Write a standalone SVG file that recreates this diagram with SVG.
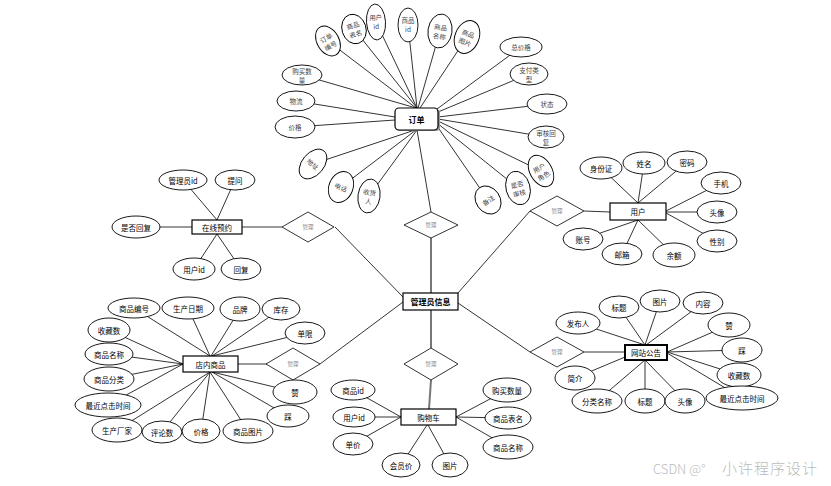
<svg xmlns="http://www.w3.org/2000/svg" width="831" height="486" viewBox="0 0 831 486">
<style>
.e{fill:#fff;stroke:#000;stroke-width:0.9}
.b{fill:#fff;stroke:#000;stroke-width:1.2}
.d{fill:#fff;stroke:#000;stroke-width:0.8}
.t{font-family:"Noto Sans CJK SC","Liberation Sans",sans-serif;font-size:7.5px;text-anchor:middle;dominant-baseline:central;fill:#000}
.o{font-size:6.5px;fill:#444}
.m{font-size:5.5px;fill:#888}
.bt{font-size:8px;font-weight:bold}
.ln{stroke:#000;stroke-width:0.8;fill:none}
.lg{stroke:#777;stroke-width:2;fill:none}
.wm{font-family:"Noto Sans CJK SC","Liberation Sans",sans-serif;font-size:13px;fill:#bbb;font-weight:300}
</style>
<rect width="831" height="486" fill="#fff"/>
<g id="connectors">
<line class="ln" x1="328" y1="41" x2="416" y2="108"/>
<line class="ln" x1="354" y1="29" x2="417" y2="108"/>
<line class="ln" x1="376" y1="22" x2="417" y2="108"/>
<line class="ln" x1="408" y1="25" x2="417" y2="108"/>
<line class="ln" x1="440" y1="31" x2="418" y2="108"/>
<line class="ln" x1="467" y1="37" x2="420" y2="108"/>
<line class="ln" x1="302" y1="75" x2="416" y2="108"/>
<line class="ln" x1="296" y1="101" x2="395" y2="117"/>
<line class="ln" x1="295" y1="127" x2="395" y2="120"/>
<line class="ln" x1="521" y1="47" x2="437" y2="109"/>
<line class="ln" x1="529" y1="74" x2="438" y2="112"/>
<line class="ln" x1="547" y1="104" x2="438" y2="117"/>
<line class="ln" x1="546" y1="137" x2="438" y2="119"/>
<line class="ln" x1="541" y1="171" x2="438" y2="121"/>
<line class="ln" x1="518" y1="188" x2="437" y2="123"/>
<line class="ln" x1="488" y1="200" x2="437" y2="126"/>
<line class="ln" x1="313" y1="164" x2="415" y2="130"/>
<line class="ln" x1="341" y1="187" x2="416" y2="130"/>
<line class="ln" x1="369" y1="196" x2="417" y2="130"/>
<line class="ln" x1="417" y1="130" x2="431" y2="212"/>
<line class="lg" x1="431" y1="238" x2="431" y2="293"/>
<line class="lg" x1="431" y1="310" x2="431" y2="348"/>
<line class="lg" x1="431" y1="380" x2="429" y2="409"/>
<line class="ln" x1="335" y1="227" x2="403" y2="297"/>
<line class="ln" x1="320" y1="364" x2="403" y2="302"/>
<line class="ln" x1="530" y1="211" x2="458" y2="293"/>
<line class="ln" x1="530" y1="352" x2="458" y2="303"/>
<line class="ln" x1="183" y1="180" x2="217" y2="220"/>
<line class="ln" x1="235" y1="180" x2="217" y2="220"/>
<line class="ln" x1="136" y1="227" x2="192" y2="227"/>
<line class="ln" x1="194" y1="269" x2="217" y2="234"/>
<line class="ln" x1="241" y1="269" x2="217" y2="234"/>
<line class="ln" x1="242" y1="227" x2="282" y2="227"/>
<line class="ln" x1="601" y1="168" x2="638" y2="203"/>
<line class="ln" x1="644" y1="163" x2="638" y2="203"/>
<line class="ln" x1="687" y1="162" x2="638" y2="203"/>
<line class="ln" x1="721" y1="183" x2="666" y2="211"/>
<line class="ln" x1="717" y1="212" x2="666" y2="212"/>
<line class="ln" x1="717" y1="241" x2="666" y2="213"/>
<line class="ln" x1="583" y1="239" x2="638" y2="220"/>
<line class="ln" x1="622" y1="254" x2="638" y2="220"/>
<line class="ln" x1="674" y1="255" x2="638" y2="220"/>
<line class="ln" x1="584" y1="211" x2="610" y2="212"/>
<line class="ln" x1="134" y1="308" x2="210" y2="356"/>
<line class="ln" x1="188" y1="308" x2="210" y2="356"/>
<line class="ln" x1="240" y1="309" x2="211" y2="356"/>
<line class="ln" x1="281" y1="309" x2="212" y2="356"/>
<line class="ln" x1="305" y1="333" x2="212" y2="356"/>
<line class="ln" x1="109" y1="330" x2="183" y2="364"/>
<line class="ln" x1="109" y1="354" x2="183" y2="364"/>
<line class="ln" x1="109" y1="379" x2="183" y2="364"/>
<line class="ln" x1="108" y1="405" x2="183" y2="364"/>
<line class="ln" x1="117" y1="430" x2="210" y2="372"/>
<line class="ln" x1="162" y1="432" x2="210" y2="372"/>
<line class="ln" x1="201" y1="431" x2="210" y2="372"/>
<line class="ln" x1="248" y1="431" x2="210" y2="372"/>
<line class="ln" x1="295" y1="392" x2="212" y2="372"/>
<line class="ln" x1="288" y1="416" x2="212" y2="372"/>
<line class="ln" x1="238" y1="364" x2="267" y2="364"/>
<line class="ln" x1="578" y1="323" x2="645" y2="345"/>
<line class="ln" x1="619" y1="307" x2="645" y2="345"/>
<line class="ln" x1="660" y1="301" x2="645" y2="345"/>
<line class="ln" x1="703" y1="303" x2="646" y2="345"/>
<line class="ln" x1="729" y1="325" x2="667" y2="352"/>
<line class="ln" x1="742" y1="350" x2="667" y2="352"/>
<line class="ln" x1="739" y1="375" x2="667" y2="352"/>
<line class="ln" x1="742" y1="398" x2="667" y2="353"/>
<line class="ln" x1="575" y1="378" x2="625" y2="357"/>
<line class="ln" x1="597" y1="401" x2="645" y2="360"/>
<line class="ln" x1="645" y1="401" x2="645" y2="360"/>
<line class="ln" x1="685" y1="401" x2="645" y2="360"/>
<line class="ln" x1="584" y1="352" x2="625" y2="352"/>
<line class="ln" x1="353" y1="390" x2="401" y2="417"/>
<line class="ln" x1="354" y1="417" x2="401" y2="417"/>
<line class="ln" x1="353" y1="444" x2="401" y2="417"/>
<line class="ln" x1="401" y1="465" x2="427" y2="425"/>
<line class="ln" x1="450" y1="465" x2="428" y2="425"/>
<line class="ln" x1="507" y1="390" x2="456" y2="417"/>
<line class="ln" x1="508" y1="418" x2="456" y2="417"/>
<line class="ln" x1="508" y1="447" x2="456" y2="417"/>
</g>

<g id="admin"><rect class="b" x="403" y="293" width="55" height="17"/><text class="t bt" x="430.5" y="301.5">管理员信息</text></g>
<g id="rel-top"><polygon class="d" points="431,212 458,225 431,238 404,225"/><text class="t m" x="431" y="225">管理</text></g>
<g id="rel-left"><polygon class="d" points="308,212 334,227 308,242 282,227"/><text class="t m" x="308" y="227">管理</text></g>
<g id="rel-bottom"><polygon class="d" points="431,348 458,364 431,380 404,364"/><text class="t m" x="431" y="364">管理</text></g>
<g id="rel-goods"><polygon class="d" points="293,348 320,364 293,380 266,364"/><text class="t m" x="293" y="364">管理</text></g>
<g id="rel-user"><polygon class="d" points="557,196 584,211 557,226 530,211"/><text class="t m" x="557" y="211">管理</text></g>
<g id="rel-notice"><polygon class="d" points="557,337 584,352 557,367 530,352"/><text class="t m" x="557" y="352">管理</text></g>

<g id="order"><rect x="396" y="109" width="44" height="22" rx="4" fill="#999"/><rect class="b" x="395" y="108" width="43" height="22" rx="4"/><text class="t bt" x="416.5" y="119">订单</text></g>
<g id="o-ddbh" transform="translate(328,41) rotate(-30)"><ellipse class="e" rx="11" ry="16"/><text class="t o"><tspan x="0" y="-4">订单</tspan><tspan x="0" y="5">编号</tspan></text></g>
<g id="o-spbm" transform="translate(354,29) rotate(-18)"><ellipse class="e" rx="12" ry="15"/><text class="t o"><tspan x="0" y="-4">商品</tspan><tspan x="0" y="5">表名</tspan></text></g>
<g id="o-yhid" transform="translate(376,22) rotate(-4)"><ellipse class="e" rx="9.5" ry="18"/><text class="t o"><tspan x="0" y="-5">用户</tspan><tspan x="0" y="4">id</tspan></text></g>
<g id="o-spid" transform="translate(408,25)"><ellipse class="e" rx="10" ry="17"/><text class="t o"><tspan x="0" y="-5">商品</tspan><tspan x="0" y="4">id</tspan></text></g>
<g id="o-spmc" transform="translate(440,31) rotate(8)"><ellipse class="e" rx="12" ry="17"/><text class="t o"><tspan x="0" y="-4">商品</tspan><tspan x="0" y="5">名称</tspan></text></g>
<g id="o-sptp" transform="translate(467,37) rotate(22)"><ellipse class="e" rx="12" ry="17"/><text class="t o"><tspan x="0" y="-4">商品</tspan><tspan x="0" y="5">图片</tspan></text></g>
<g id="o-gmsl"><ellipse class="e" cx="302" cy="75" rx="20" ry="10"/><text class="t o"><tspan x="302" y="71">购买数</tspan><tspan x="302" y="79.5">量</tspan></text></g>
<g id="o-wl"><ellipse class="e" cx="296" cy="101" rx="19" ry="10"/><text class="t o" x="296" y="101">物流</text></g>
<g id="o-jg"><ellipse class="e" cx="295" cy="127" rx="20" ry="11"/><text class="t o" x="295" y="127">价格</text></g>
<g id="o-zjg"><ellipse class="e" cx="521" cy="47" rx="21" ry="10"/><text class="t o" x="521" y="47">总价格</text></g>
<g id="o-zflx"><ellipse class="e" cx="529" cy="74" rx="19" ry="11"/><text class="t o"><tspan x="529" y="70">支付类</tspan><tspan x="529" y="79">型</tspan></text></g>
<g id="o-zt"><ellipse class="e" cx="547" cy="104" rx="20" ry="10"/><text class="t o" x="547" y="104">状态</text></g>
<g id="o-shhf"><ellipse class="e" cx="546" cy="137" rx="18" ry="11"/><text class="t o"><tspan x="546" y="133">审核回</tspan><tspan x="546" y="142">复</tspan></text></g>
<g id="o-yhjs" transform="translate(541,171) rotate(-30)"><ellipse class="e" rx="11" ry="17"/><text class="t o"><tspan x="0" y="-4">用户</tspan><tspan x="0" y="5">角色</tspan></text></g>
<g id="o-sfsh" transform="translate(518,188) rotate(-15)"><ellipse class="e" rx="12" ry="17"/><text class="t o"><tspan x="0" y="-4">是否</tspan><tspan x="0" y="5">审核</tspan></text></g>
<g id="o-bz" transform="translate(488,200) rotate(-35)"><ellipse class="e" rx="12" ry="15"/><text class="t o" x="0" y="0">备注</text></g>
<g id="o-dz" transform="translate(313,164) rotate(40)"><ellipse class="e" rx="11" ry="17"/><text class="t o" x="0" y="0">地址</text></g>
<g id="o-dh" transform="translate(341,187) rotate(22)"><ellipse class="e" rx="12" ry="16"/><text class="t o" x="0" y="0">电话</text></g>
<g id="o-shr" transform="translate(369,196) rotate(8)"><ellipse class="e" rx="11" ry="17"/><text class="t o"><tspan x="0" y="-4">收货</tspan><tspan x="0" y="5">人</tspan></text></g>

<g id="zaixian"><rect class="b" x="192" y="220" width="50" height="14"/><text class="t" x="217" y="227">在线预约</text></g>
<g id="z-glyid"><ellipse class="e" cx="183" cy="180" rx="24" ry="10"/><text class="t" x="183" y="180">管理员id</text></g>
<g id="z-tw"><ellipse class="e" cx="235" cy="180" rx="20" ry="10"/><text class="t" x="235" y="180">提问</text></g>
<g id="z-sfhf"><ellipse class="e" cx="136" cy="227" rx="24" ry="11"/><text class="t" x="136" y="227">是否回复</text></g>
<g id="z-yhid"><ellipse class="e" cx="194" cy="269" rx="21" ry="11"/><text class="t" x="194" y="269">用户id</text></g>
<g id="z-hf"><ellipse class="e" cx="241" cy="269" rx="20" ry="11"/><text class="t" x="241" y="269">回复</text></g>

<g id="user"><rect class="b" x="610" y="203" width="56" height="17"/><text class="t" x="638" y="211.5">用户</text></g>
<g id="u-sfz"><ellipse class="e" cx="601" cy="168" rx="21" ry="11"/><text class="t" x="601" y="168">身份证</text></g>
<g id="u-xm"><ellipse class="e" cx="644" cy="163" rx="21" ry="11"/><text class="t" x="644" y="163">姓名</text></g>
<g id="u-mm"><ellipse class="e" cx="687" cy="162" rx="20" ry="11"/><text class="t" x="687" y="162">密码</text></g>
<g id="u-sj"><ellipse class="e" cx="721" cy="183" rx="20" ry="11"/><text class="t" x="721" y="183">手机</text></g>
<g id="u-tx"><ellipse class="e" cx="717" cy="212" rx="20" ry="11"/><text class="t" x="717" y="212">头像</text></g>
<g id="u-xb"><ellipse class="e" cx="717" cy="241" rx="20" ry="11"/><text class="t" x="717" y="241">性别</text></g>
<g id="u-zh"><ellipse class="e" cx="583" cy="239" rx="20" ry="11"/><text class="t" x="583" y="239">账号</text></g>
<g id="u-yx"><ellipse class="e" cx="622" cy="254" rx="20" ry="11"/><text class="t" x="622" y="254">邮箱</text></g>
<g id="u-ye"><ellipse class="e" cx="674" cy="255" rx="21" ry="12"/><text class="t" x="674" y="255">余额</text></g>

<g id="goods"><rect class="b" x="183" y="356" width="55" height="16"/><text class="t" x="210.5" y="364">店内商品</text></g>
<g id="g-spbh"><ellipse class="e" cx="134" cy="308" rx="26" ry="10"/><text class="t" x="134" y="308">商品编号</text></g>
<g id="g-scrq"><ellipse class="e" cx="188" cy="308" rx="26" ry="11"/><text class="t" x="188" y="308">生产日期</text></g>
<g id="g-pp"><ellipse class="e" cx="240" cy="309" rx="20" ry="12"/><text class="t" x="240" y="309">品牌</text></g>
<g id="g-kc"><ellipse class="e" cx="281" cy="309" rx="19" ry="11"/><text class="t" x="281" y="309">库存</text></g>
<g id="g-dx"><ellipse class="e" cx="305" cy="333" rx="20" ry="11"/><text class="t" x="305" y="333">单限</text></g>
<g id="g-scs"><ellipse class="e" cx="109" cy="330" rx="21" ry="12"/><text class="t" x="109" y="330">收藏数</text></g>
<g id="g-spmc"><ellipse class="e" cx="109" cy="354" rx="24" ry="11"/><text class="t" x="109" y="354">商品名称</text></g>
<g id="g-spfl"><ellipse class="e" cx="109" cy="379" rx="25" ry="12"/><text class="t" x="109" y="379">商品分类</text></g>
<g id="g-zjdj"><ellipse class="e" cx="108" cy="405" rx="33" ry="12"/><text class="t" x="108" y="405">最近点击时间</text></g>
<g id="g-sccj"><ellipse class="e" cx="117" cy="430" rx="25" ry="12"/><text class="t" x="117" y="430">生产厂家</text></g>
<g id="g-pls"><ellipse class="e" cx="162" cy="432" rx="20" ry="11"/><text class="t" x="162" y="432">评论数</text></g>
<g id="g-jg"><ellipse class="e" cx="201" cy="431" rx="19" ry="12"/><text class="t" x="201" y="431">价格</text></g>
<g id="g-sptp"><ellipse class="e" cx="248" cy="431" rx="25" ry="12"/><text class="t" x="248" y="431">商品图片</text></g>
<g id="g-z"><ellipse class="e" cx="295" cy="392" rx="22" ry="12"/><text class="t" x="295" y="392">赞</text></g>
<g id="g-c"><ellipse class="e" cx="288" cy="416" rx="21" ry="11"/><text class="t" x="288" y="416">踩</text></g>

<g id="notice"><rect class="b" x="625" y="345" width="42" height="15" style="stroke-width:2"/><text class="t" x="646" y="352.5">网站公告</text></g>
<g id="n-fbr"><ellipse class="e" cx="578" cy="323" rx="22" ry="11"/><text class="t" x="578" y="323">发布人</text></g>
<g id="n-bt1"><ellipse class="e" cx="619" cy="307" rx="20" ry="11"/><text class="t" x="619" y="307">标题</text></g>
<g id="n-tp"><ellipse class="e" cx="660" cy="301" rx="20" ry="11"/><text class="t" x="660" y="301">图片</text></g>
<g id="n-nr"><ellipse class="e" cx="703" cy="303" rx="20" ry="11"/><text class="t" x="703" y="303">内容</text></g>
<g id="n-z"><ellipse class="e" cx="729" cy="325" rx="21" ry="12"/><text class="t" x="729" y="325">赞</text></g>
<g id="n-c"><ellipse class="e" cx="742" cy="350" rx="20" ry="12"/><text class="t" x="742" y="350">踩</text></g>
<g id="n-scs"><ellipse class="e" cx="739" cy="375" rx="22" ry="12"/><text class="t" x="739" y="375">收藏数</text></g>
<g id="n-zjdj"><ellipse class="e" cx="742" cy="398" rx="36" ry="12"/><text class="t" x="742" y="398">最近点击时间</text></g>
<g id="n-jj"><ellipse class="e" cx="575" cy="378" rx="20" ry="12"/><text class="t" x="575" y="378">简介</text></g>
<g id="n-flmc"><ellipse class="e" cx="597" cy="401" rx="25" ry="12"/><text class="t" x="597" y="401">分类名称</text></g>
<g id="n-bt2"><ellipse class="e" cx="645" cy="401" rx="20" ry="12"/><text class="t" x="645" y="401">标题</text></g>
<g id="n-tx"><ellipse class="e" cx="685" cy="401" rx="20" ry="12"/><text class="t" x="685" y="401">头像</text></g>

<g id="cart"><rect class="b" x="401" y="409" width="55" height="16"/><text class="t" x="428.5" y="417">购物车</text></g>
<g id="c-spid"><ellipse class="e" cx="353" cy="390" rx="22" ry="10"/><text class="t" x="353" y="390">商品id</text></g>
<g id="c-yhid"><ellipse class="e" cx="354" cy="417" rx="21" ry="10"/><text class="t" x="354" y="417">用户id</text></g>
<g id="c-dj"><ellipse class="e" cx="353" cy="444" rx="20" ry="11"/><text class="t" x="353" y="444">单价</text></g>
<g id="c-hyj"><ellipse class="e" cx="401" cy="465" rx="19" ry="12"/><text class="t" x="401" y="465">会员价</text></g>
<g id="c-tp"><ellipse class="e" cx="450" cy="465" rx="18" ry="12"/><text class="t" x="450" y="465">图片</text></g>
<g id="c-gmsl"><ellipse class="e" cx="507" cy="390" rx="24" ry="12"/><text class="t" x="507" y="390">购买数量</text></g>
<g id="c-spbm"><ellipse class="e" cx="508" cy="418" rx="23" ry="11"/><text class="t" x="508" y="418">商品表名</text></g>
<g id="c-spmc"><ellipse class="e" cx="508" cy="447" rx="25" ry="12"/><text class="t" x="508" y="447">商品名称</text></g>

<text class="wm" x="653" y="474">CSDN @°<tspan x="722" style="font-size:15px;letter-spacing:1px">小许程序设计</tspan></text>
</svg>
